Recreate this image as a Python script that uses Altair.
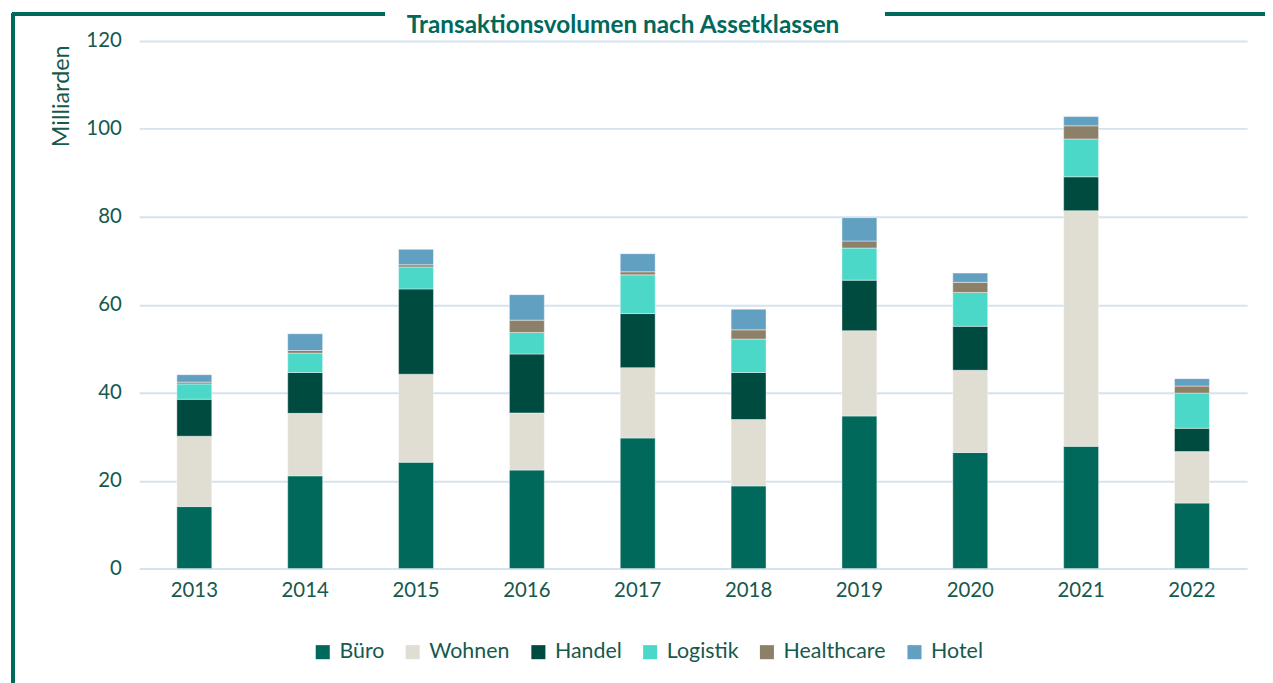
import altair as alt
import pandas as pd

years = ["2013", "2014", "2015", "2016", "2017", "2018", "2019", "2020", "2021", "2022"]
categories = ["Büro", "Wohnen", "Handel", "Logistik", "Healthcare", "Hotel"]
colors = ["#00695c", "#e0ddd2", "#004b40", "#4cd8c8", "#8c8068", "#62a0c2"]

buero      = [14.1, 21.1, 24.2, 22.4, 29.7, 18.8, 34.7, 26.4, 27.8, 14.9]
wohnen     = [16.0, 14.2, 20.0, 13.0, 16.0, 15.1, 19.4, 18.7, 53.6, 11.7]
handel     = [8.4, 9.3, 19.4, 13.4, 12.3, 10.7, 11.5, 10.0, 7.7, 5.3]
logistik   = [3.5, 4.4, 5.0, 4.9, 8.8, 7.6, 7.3, 7.7, 8.6, 8.0]
healthcare = [0.4, 0.6, 0.5, 2.8, 0.7, 2.1, 1.6, 2.3, 3.0, 1.6]
hotel      = [1.7, 3.8, 3.5, 5.8, 4.1, 4.7, 5.3, 2.1, 2.1, 1.7]

series = [buero, wohnen, handel, logistik, healthcare, hotel]
rows = []
for ci, (cat, vals) in enumerate(zip(categories, series)):
    for y, v in zip(years, vals):
        rows.append({"Jahr": y, "Assetklasse": cat, "Wert": v, "ord": ci})
df = pd.DataFrame(rows)

TXT = "#16594d"
FRAME = "#00695c"
FONT = "Lato"

bars = alt.Chart(df).mark_bar(stroke="#ffffff", strokeWidth=0.6, strokeOpacity=0.7).encode(
    x=alt.X("Jahr:N", sort=years, title=None,
            scale=alt.Scale(paddingInner=0.685, paddingOuter=0.34),
            axis=alt.Axis(labelAngle=0, labelFontSize=20.5, labelColor=TXT, labelFont=FONT,
                          domain=False, ticks=False, labelPadding=12, grid=False)),
    y=alt.Y("sum(Wert):Q", title="Milliarden",
            scale=alt.Scale(domain=[0, 120]),
            axis=alt.Axis(values=[0, 20, 40, 60, 80, 100, 120], labelFontSize=20.5, labelColor=TXT,
                          labelFont=FONT, domain=False, ticks=False, labelPadding=18,
                          gridColor="#d5e3ee", gridWidth=2,
                          titleFontSize=23.5, titleFontWeight="normal", titleColor=TXT, titleFont=FONT,
                          titleAnchor="end", titleY=4, titlePadding=12)),
    color=alt.Color("Assetklasse:N", sort=categories,
                    scale=alt.Scale(domain=categories, range=colors),
                    legend=alt.Legend(title=None, orient="none", direction="horizontal",
                                      legendX=174, legendY=604,
                                      symbolType="square", symbolSize=200, symbolStrokeWidth=0,
                                      labelFontSize=21.5, labelColor=TXT, labelFont=FONT,
                                      columnPadding=17.5, symbolOffset=0, labelOffset=6)),
    order=alt.Order("ord:Q", sort="ascending"),
)

frame_left = alt.Chart(df).mark_rule(color=FRAME, strokeWidth=2.5, clip=False).encode(
    x=alt.value(-127), y=alt.value(-27), y2=alt.value(660))
frame_top1 = alt.Chart(df).mark_rule(color=FRAME, strokeWidth=2.5, clip=False).encode(
    x=alt.value(-128), x2=alt.value(247), y=alt.value(-27))
frame_top2 = alt.Chart(df).mark_rule(color=FRAME, strokeWidth=2.5, clip=False).encode(
    x=alt.value(751), x2=alt.value(1140), y=alt.value(-27))
title = alt.Chart(pd.DataFrame({"t": ["Transaktionsvolumen nach Assetklassen"]})).mark_text(
    fontSize=24.5, fontWeight="bold", color=FRAME, font=FONT, align="center", baseline="alphabetic",
    clip=False).encode(x=alt.value(487), y=alt.value(-8), text="t:N")

chart = alt.layer(bars, frame_left, frame_top1, frame_top2, title).properties(
    width=1115, height=531,
    autosize=alt.AutoSizeParams(type="none"),
    padding={"left": 132, "top": 31, "right": 18, "bottom": 113},
).configure_view(stroke=None)

chart.save("out.html", embed_options={"renderer": "svg", "actions": False})
